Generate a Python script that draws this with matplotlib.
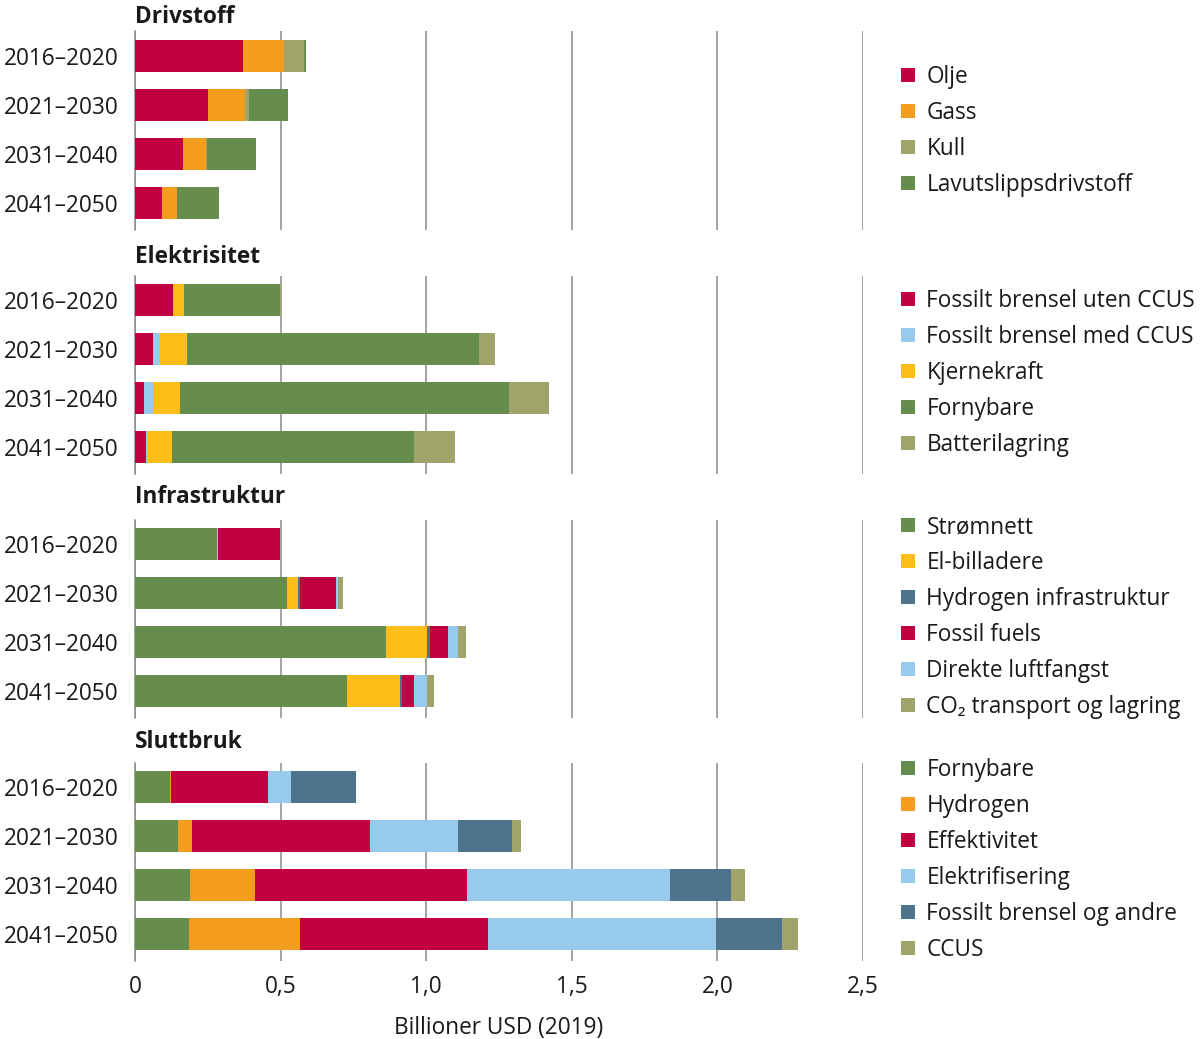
import matplotlib
matplotlib.use('Agg')
import matplotlib.pyplot as plt
import numpy as np

plt.rcParams['font.family'] = ['Open Sans', 'DejaVu Sans']

# Farger
RED = '#C1003F'
ORANGE = '#F39C1E'
OLIVE = '#A0A36A'
GREEN = '#668C4E'
LIGHTBLUE = '#98CAEC'
YELLOW = '#FDBE17'
STEEL = '#4E738D'

periods = ['2016–2020', '2021–2030', '2031–2040', '2041–2050']

# Drivstoff
olje = [0.370, 0.251, 0.164, 0.092]
gass = [0.142, 0.127, 0.080, 0.051]
kull = [0.068, 0.013, 0.003, 0.0]
lavutslipp = [0.007, 0.133, 0.169, 0.147]

# Elektrisitet
fossil_uten_ccus = [0.132, 0.063, 0.032, 0.037]
fossil_med_ccus = [0.0, 0.023, 0.029, 0.007]
kjernekraft = [0.036, 0.091, 0.094, 0.083]
fornybare_el = [0.330, 1.005, 1.130, 0.831]
batterilagring = [0.003, 0.054, 0.137, 0.141]

# Infrastruktur
stromnett = [0.281, 0.523, 0.862, 0.727]
el_billadere = [0.004, 0.038, 0.140, 0.183]
hydrogen_infra = [0.0, 0.006, 0.011, 0.008]
fossil_fuels = [0.213, 0.123, 0.063, 0.041]
luftfangst = [0.0, 0.006, 0.034, 0.043]
co2_transport = [0.0, 0.019, 0.027, 0.026]

# Sluttbruk
fornybare_slutt = [0.120, 0.147, 0.189, 0.186]
hydrogen = [0.002, 0.049, 0.222, 0.382]
effektivitet = [0.336, 0.611, 0.730, 0.645]
elektrifisering = [0.077, 0.303, 0.695, 0.781]
fossil_andre = [0.223, 0.183, 0.210, 0.228]
ccus = [0.002, 0.034, 0.048, 0.056]

panels = [
    ('Drivstoff', [
        ('Olje', olje, RED),
        ('Gass', gass, ORANGE),
        ('Kull', kull, OLIVE),
        ('Lavutslippsdrivstoff', lavutslipp, GREEN),
    ]),
    ('Elektrisitet', [
        ('Fossilt brensel uten CCUS', fossil_uten_ccus, RED),
        ('Fossilt brensel med CCUS', fossil_med_ccus, LIGHTBLUE),
        ('Kjernekraft', kjernekraft, YELLOW),
        ('Fornybare', fornybare_el, GREEN),
        ('Batterilagring', batterilagring, OLIVE),
    ]),
    ('Infrastruktur', [
        ('Strømnett', stromnett, GREEN),
        ('El-billadere', el_billadere, YELLOW),
        ('Hydrogen infrastruktur', hydrogen_infra, STEEL),
        ('Fossil fuels', fossil_fuels, RED),
        ('Direkte luftfangst', luftfangst, LIGHTBLUE),
        ('CO₂ transport og lagring', co2_transport, OLIVE),
    ]),
    ('Sluttbruk', [
        ('Fornybare', fornybare_slutt, GREEN),
        ('Hydrogen', hydrogen, ORANGE),
        ('Effektivitet', effektivitet, RED),
        ('Elektrifisering', elektrifisering, LIGHTBLUE),
        ('Fossilt brensel og andre', fossil_andre, STEEL),
        ('CCUS', ccus, OLIVE),
    ]),
]

W, H = 1200, 1039
fig = plt.figure(figsize=(W / 100, H / 100), dpi=100, facecolor='white')

FS = 16.3
step = 49  # px mellom stolpene
first_centers = [56, 300, 544, 787]
title_y = [17, 257, 497, 742]
legend_mid = [131, 373, 617, 860]
y = np.arange(len(periods))

for i, (title, series) in enumerate(panels):
    top = first_centers[i] - 0.5 * step
    height = 4.05 * step
    ax = fig.add_axes([135 / W, 1 - (top + height) / H, 728 / W, height / H])
    left = np.zeros(len(periods))
    handles = []
    for label, vals, color in series:
        vals = np.array(vals)
        b = ax.barh(y, vals, left=left, height=0.65, color=color, label=label, zorder=3)
        handles.append(b)
        left += vals
    ax.set_ylim(3.55, -0.5)
    ax.set_xlim(0, 2.5)
    ax.set_xticks([0, 0.5, 1.0, 1.5, 2.0, 2.5])
    ax.grid(axis='x', color='#8a8a8a', linewidth=1.1, zorder=0)
    ax.grid(axis='y', visible=False)
    for s in ['top', 'right', 'bottom']:
        ax.spines[s].set_visible(False)
    ax.spines['left'].set_color('#8a8a8a')
    ax.spines['left'].set_linewidth(1.1)
    ax.set_yticks(y)
    ax.set_yticklabels(periods, fontsize=FS, color='#1a1a1a')
    ax.tick_params(axis='y', length=0, pad=12)
    if i < 3:
        ax.tick_params(axis='x', length=0, labelbottom=False)
    else:
        ax.tick_params(axis='x', length=0, pad=10, labelsize=FS, labelcolor='#1a1a1a')
        ax.set_xticklabels(['0', '0,5', '1,0', '1,5', '2,0', '2,5'])
        ax.set_xlabel('Billioner USD (2019)', fontsize=FS, color='#1a1a1a', labelpad=12)

    fig.text(135 / W, 1 - title_y[i] / H, title, fontsize=FS, fontweight='bold',
             ha='left', va='center', color='#1a1a1a')

    ax.legend(handles=handles, loc='center left',
              bbox_to_anchor=(901 / W, 1 - legend_mid[i] / H), bbox_transform=fig.transFigure,
              frameon=False, fontsize=FS, handlelength=0.62, handleheight=0.62,
              handletextpad=0.5, labelspacing=0.53, borderpad=0, borderaxespad=0,
              labelcolor='#1a1a1a')

fig.savefig('out.png', dpi=100, facecolor='white')
